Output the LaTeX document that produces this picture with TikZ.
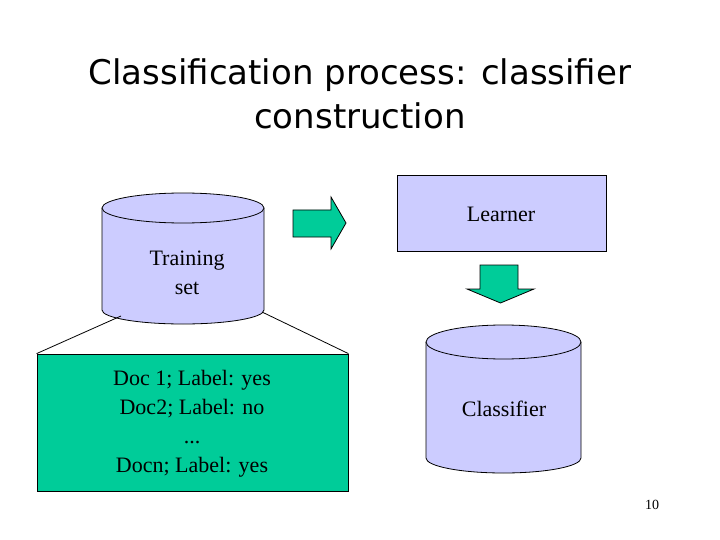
\documentclass[tikz,border=0pt]{standalone}
\usepackage{fontspec}
\setmainfont{Liberation Serif}
\newfontfamily\titlefont{DejaVu Sans}
\definecolor{lav}{RGB}{204,204,255}
\definecolor{grn}{RGB}{0,204,153}
\begin{document}
\begin{tikzpicture}[x=1pt,y=-1pt,
  txt/.style={font=\fontsize{22}{29}\selectfont,align=center},
  shp/.style={draw=black,line width=0.8pt}]
\useasboundingbox (0,0) rectangle (720,540);
\node[font=\titlefont\fontsize{34}{44}\selectfont,align=center] (title) at (360,94) {Classification process: classifier\\construction};
% left cylinder
\fill[lav] (102,208) -- (102,310) arc[start angle=180,end angle=0,x radius=81,y radius=14] -- (264,208) -- cycle;
\draw[shp] (102,208) -- (102,310) arc[start angle=180,end angle=0,x radius=81,y radius=14] -- (264,208);
\draw[shp,fill=lav] (183,208) ellipse[x radius=81,y radius=15];
\node[txt] (train) at (187,273) {Training\\set};
% green box
\node[shp,fill=grn,minimum width=311,minimum height=137,inner sep=0] (box) at (192.5,422.5) {};
\node[txt] (boxtxt) at (192,424) {Doc 1; Label: yes\\Doc2; Label: no\\...\\Docn; Label: yes};
\draw[shp] (121,316) -- (box.north west);
\draw[shp] (262,312) -- (box.north east);
% right arrow
\draw[shp,fill=grn] (293,210) -- (331,210) -- (331,197) -- (346,223) -- (331,249) -- (331,237) -- (293,237) -- cycle;
% learner
\node[shp,fill=lav,minimum width=209,minimum height=76,inner sep=0] (learner) at (501.5,213) {};
\node[txt] (ltxt) at (501,214) {Learner};
% down arrow
\draw[shp,fill=grn] (480,265) -- (518,265) -- (518,289) -- (534,289) -- (500.5,303) -- (467,289) -- (480,289) -- cycle;
% classifier cylinder
\fill[lav] (426,342) -- (426,458) arc[start angle=180,end angle=0,x radius=77.5,y radius=15] -- (581,342) -- cycle;
\draw[shp] (426,342) -- (426,458) arc[start angle=180,end angle=0,x radius=77.5,y radius=15] -- (581,342);
\draw[shp,fill=lav] (503.5,342) ellipse[x radius=77.5,y radius=17];
\node[txt] (ctxt) at (504,409) {Classifier};
\node[font=\fontsize{14}{16}\selectfont] (pg) at (652,505) {10};
\end{tikzpicture}
\end{document}
